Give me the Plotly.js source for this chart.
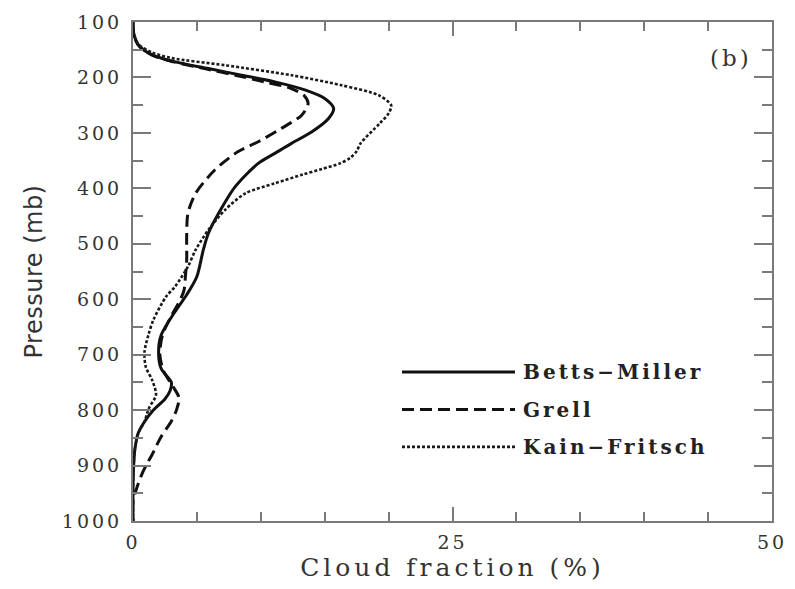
<!DOCTYPE html>
<html>
<head>
<meta charset="utf-8">
<script src="https://cdn.plot.ly/plotly-3.0.1.min.js"></script>
<style>
  html, body { margin: 0; padding: 0; background: #fff; }
  #chart { width: 795px; height: 589px; }
  .xtick text, .ytick text { letter-spacing: 3px; }
  .xtitle { letter-spacing: 4px; }
  .ytitle { letter-spacing: 0.5px; }
  .annotation-text { letter-spacing: 3px; }
</style>
</head>
<body>
<div id="chart"></div>
<script>
// Cloud fraction profiles (%) versus pressure (mb) for three convection schemes
const bmPressure = [100, 120, 141, 150, 160, 172, 184, 196, 208, 223, 238, 256, 274, 298, 319, 337, 355, 397, 445, 481, 511, 559, 592, 622, 665, 695, 725, 750, 765, 780, 800, 821, 842, 870, 900, 940, 1000];
const bmCloud    = [0.0, 0.05, 0.4, 0.8, 1.6, 3.3, 5.9, 8.5, 11.1, 13.5, 15.0, 15.7, 15.3, 14.0, 12.4, 11.1, 9.8, 8.0, 6.7, 5.9, 5.5, 5.0, 4.2, 3.3, 2.2, 2.0, 2.2, 3.0, 2.9, 2.5, 1.6, 0.9, 0.4, 0.15, 0.05, 0.0, 0.0];

const grPressure = [100, 120, 141, 160, 172, 184, 196, 208, 220, 233, 247, 268, 292, 316, 334, 367, 409, 445, 487, 529, 559, 583, 601, 630, 665, 700, 730, 760, 778, 800, 820, 848, 880, 910, 940, 965, 1000];
const grCloud    = [0.0, 0.05, 0.4, 1.5, 3.2, 5.6, 8.0, 10.3, 12.4, 13.4, 13.7, 13.2, 11.6, 9.8, 8.2, 6.4, 4.9, 4.3, 4.2, 4.2, 4.1, 4.0, 3.7, 3.0, 2.3, 2.1, 2.4, 3.2, 3.6, 3.4, 3.0, 2.2, 1.5, 0.8, 0.3, 0.0, 0.0];

const kfPressure = [100, 120, 140, 155, 165, 178, 196, 214, 232, 250, 265, 283, 319, 333, 345, 355, 365, 375, 391, 409, 439, 475, 511, 541, 577, 595, 637, 665, 695, 722, 746, 773, 794, 806, 821, 842, 870, 900, 940, 1000];
const kfCloud    = [0.0, 0.05, 0.4, 1.5, 3.0, 7.2, 12.4, 16.3, 19.2, 20.2, 20.0, 19.3, 17.8, 17.5, 17.0, 16.2, 14.8, 13.3, 11.1, 8.8, 7.2, 5.9, 4.9, 4.3, 3.3, 2.6, 1.6, 1.2, 0.9, 1.0, 1.5, 1.8, 1.3, 1.1, 0.9, 0.4, 0.15, 0.05, 0.0, 0.0];

const schemeNames = ['Betts\u2212Miller', 'Grell', 'Kain\u2212Fritsch'];
const xTickVals = [0, 25, 50];
const yTickVals = [100, 200, 300, 400, 500, 600, 700, 800, 900, 1000];

const serif = 'DejaVu Serif, serif';
const axisGray = '#7a7a7a';
const textColor = '#333333';

const lineStyles = [
  {color: '#111', width: 3, dash: 'solid'},
  {color: '#111', width: 3, dash: '12px,6px'},
  {color: '#1a1a1a', width: 2.6, dash: '3px,2px'}
];

const series = [[bmCloud, bmPressure], [grCloud, grPressure], [kfCloud, kfPressure]];
const traces = series.map((s, i) => ({
  x: s[0], y: s[1], type: 'scatter', mode: 'lines',
  name: schemeNames[i],
  line: Object.assign({shape: 'spline', smoothing: 0.8}, lineStyles[i]),
  showlegend: false, hoverinfo: 'skip'
}));

// Hand-drawn key inside the plot area
const keyRows = [0.2986, 0.2234, 0.1486];
const keyX0 = (402 - 133) / 639, keyX1 = (515 - 133) / 639, keyText = (521 - 133) / 639;
const shapes = keyRows.map((yy, i) => ({
  type: 'line', xref: 'paper', yref: 'paper',
  x0: keyX0, x1: keyX1, y0: yy, y1: yy,
  line: {color: lineStyles[i].color, width: lineStyles[i].width, dash: lineStyles[i].dash}
}));
const annotations = keyRows.map((yy, i) => ({
  xref: 'paper', yref: 'paper', x: keyText, y: yy,
  xanchor: 'left', yanchor: 'middle', showarrow: false,
  text: '<b>' + schemeNames[i] + '</b>',
  font: {family: serif, size: 20, color: '#222'}
}));
annotations.push({
  xref: 'paper', yref: 'paper', x: (754 - 133) / 639, y: (521 - 58) / 499,
  xanchor: 'right', yanchor: 'middle', showarrow: false,
  text: '(b)', font: {family: serif, size: 23, color: textColor}
});

const layout = {
  width: 795, height: 589,
  margin: {l: 133, r: 23, t: 22, b: 68},
  paper_bgcolor: '#fff', plot_bgcolor: '#fff',
  showlegend: false,
  xaxis: {
    range: [0, 50], tickvals: xTickVals, ticktext: xTickVals.map(String),
    ticks: 'inside', ticklen: 14, tickwidth: 2, tickcolor: axisGray,
    minor: {dtick: 5, ticks: 'inside', ticklen: 9, tickwidth: 2, tickcolor: axisGray, showgrid: false},
    showline: true, linecolor: axisGray, linewidth: 2, mirror: 'allticks',
    showgrid: false, zeroline: false,
    tickfont: {family: serif, size: 19, color: textColor},
    ticklabelstandoff: 3,
    title: {text: 'Cloud fraction (%)', font: {family: serif, size: 25, color: textColor}, standoff: 6}
  },
  yaxis: {
    range: [1000, 100], tickvals: yTickVals, ticktext: yTickVals.map(String),
    ticks: 'inside', ticklen: 18, tickwidth: 2, tickcolor: axisGray,
    minor: {dtick: 50, ticks: 'inside', ticklen: 10, tickwidth: 2, tickcolor: axisGray, showgrid: false},
    showline: true, linecolor: axisGray, linewidth: 2, mirror: 'allticks',
    showgrid: false, zeroline: false,
    tickfont: {family: serif, size: 19, color: textColor},
    ticklabelstandoff: 5,
    title: {text: 'Pressure (mb)', font: {family: 'DejaVu Sans, sans-serif', size: 24, color: textColor}, standoff: 12}
  },
  shapes: shapes,
  annotations: annotations
};

Plotly.newPlot('chart', traces, layout, {staticPlot: true, displayModeBar: false});
</script>
</body>
</html>
